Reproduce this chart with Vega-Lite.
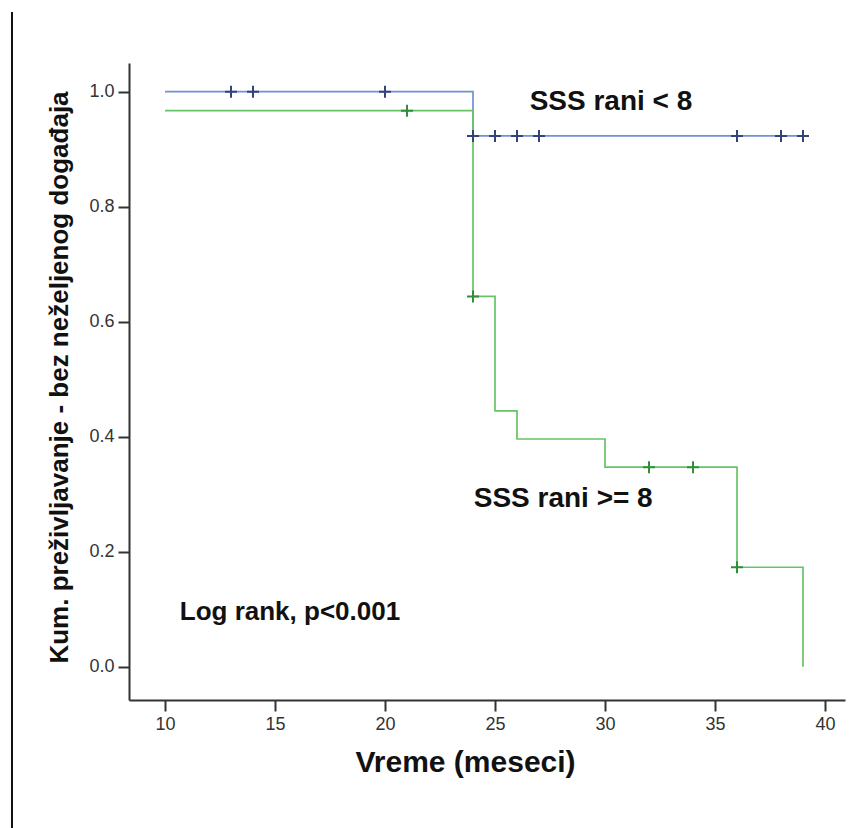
{
  "$schema": "https://vega.github.io/schema/vega-lite/v6.json",
  "width": 716,
  "height": 637,
  "autosize": {"type": "none"},
  "padding": {"left": 129, "top": 63, "right": 4, "bottom": 128},
  "background": "white",
  "config": {"view": {"stroke": null}, "font": "Liberation Sans"},
  "datasets": {
    "curves": [
      {"group": "lt8", "time": 10, "surv": 1.0},
      {"group": "lt8", "time": 24, "surv": 0.923},
      {"group": "lt8", "time": 39, "surv": 0.923},
      {"group": "ge8", "time": 10, "surv": 0.967},
      {"group": "ge8", "time": 24, "surv": 0.644},
      {"group": "ge8", "time": 25, "surv": 0.445},
      {"group": "ge8", "time": 26, "surv": 0.396},
      {"group": "ge8", "time": 30, "surv": 0.347},
      {"group": "ge8", "time": 36, "surv": 0.173},
      {"group": "ge8", "time": 39, "surv": 0.0}
    ],
    "censors": [
      {"group": "lt8", "time": 13, "surv": 1.0},
      {"group": "lt8", "time": 14, "surv": 1.0},
      {"group": "lt8", "time": 20, "surv": 1.0},
      {"group": "lt8", "time": 24, "surv": 0.923},
      {"group": "lt8", "time": 25, "surv": 0.923},
      {"group": "lt8", "time": 26, "surv": 0.923},
      {"group": "lt8", "time": 27, "surv": 0.923},
      {"group": "lt8", "time": 36, "surv": 0.923},
      {"group": "lt8", "time": 38, "surv": 0.923},
      {"group": "lt8", "time": 39, "surv": 0.923},
      {"group": "ge8", "time": 21, "surv": 0.967},
      {"group": "ge8", "time": 24, "surv": 0.644},
      {"group": "ge8", "time": 32, "surv": 0.347},
      {"group": "ge8", "time": 34, "surv": 0.347},
      {"group": "ge8", "time": 36, "surv": 0.173}
    ],
    "one": [{}]
  },
  "layer": [
    {
      "data": {"name": "curves"},
      "mark": {"type": "line", "interpolate": "step-after", "strokeWidth": 1.7},
      "encoding": {
        "x": {
          "field": "time", "type": "quantitative",
          "scale": {"domain": [8.3636, 40.909], "nice": false, "zero": false},
          "axis": {
            "values": [10, 15, 20, 25, 30, 35, 40],
            "grid": false,
            "domainColor": "#333333", "domainWidth": 2,
            "tickColor": "#333333", "tickWidth": 2, "tickSize": 11,
            "labelFont": "Liberation Sans", "labelFontSize": 18, "labelColor": "#333333", "labelPadding": 4,
            "title": "Vreme (meseci)",
            "titleFont": "Liberation Sans", "titleFontSize": 30, "titleFontWeight": "bold", "titleColor": "#111111",
            "titleX": 336, "titleY": 62, "titleBaseline": "middle", "titleAlign": "center"
          }
        },
        "y": {
          "field": "surv", "type": "quantitative",
          "scale": {"domain": [-0.0579, 1.0499], "nice": false, "zero": false},
          "axis": {
            "values": [0, 0.2, 0.4, 0.6, 0.8, 1.0],
            "format": ".1f",
            "grid": false,
            "domainColor": "#333333", "domainWidth": 2,
            "tickColor": "#333333", "tickWidth": 2, "tickSize": 11,
            "labelFont": "Liberation Sans", "labelFontSize": 18, "labelColor": "#333333", "labelPadding": 4,
            "title": "Kum. preživljavanje - bez neželjenog događaja",
            "titleFont": "Liberation Sans", "titleFontSize": 26, "titleFontWeight": "bold", "titleColor": "#111111",
            "titleX": -70, "titleY": 314, "titleAngle": 270, "titleBaseline": "middle", "titleAlign": "center"
          }
        },
        "color": {
          "field": "group", "type": "nominal",
          "scale": {"domain": ["lt8", "ge8"], "range": ["#7090d8", "#66c466"]},
          "legend": null
        }
      }
    },
    {
      "data": {"name": "censors"},
      "mark": {"type": "point", "shape": "M-1,0H1M0,-1V1", "filled": false, "strokeWidth": 2, "size": 144, "opacity": 1},
      "encoding": {
        "x": {"field": "time", "type": "quantitative"},
        "y": {"field": "surv", "type": "quantitative"},
        "stroke": {
          "field": "group", "type": "nominal",
          "scale": {"domain": ["lt8", "ge8"], "range": ["#34447a", "#2f8f3a"]},
          "legend": null
        }
      }
    },
    {
      "data": {"name": "one"},
      "mark": {"type": "rule", "color": "#111111", "strokeWidth": 2},
      "encoding": {
        "x": {"datum": 3.045, "type": "quantitative"},
        "y": {"datum": 1.1386, "type": "quantitative"},
        "y2": {"datum": -0.2805}
      }
    },
    {
      "data": {"name": "one"},
      "mark": {"type": "text", "font": "Liberation Sans", "fontWeight": "bold", "fontSize": 28, "color": "#111111", "align": "center", "baseline": "middle"},
      "encoding": {
        "x": {"datum": 30.27, "type": "quantitative"},
        "y": {"datum": 0.982, "type": "quantitative"},
        "text": {"value": "SSS rani < 8"}
      }
    },
    {
      "data": {"name": "one"},
      "mark": {"type": "text", "font": "Liberation Sans", "fontWeight": "bold", "fontSize": 28, "color": "#111111", "align": "center", "baseline": "middle"},
      "encoding": {
        "x": {"datum": 28.1, "type": "quantitative"},
        "y": {"datum": 0.292, "type": "quantitative"},
        "text": {"value": "SSS rani >= 8"}
      }
    },
    {
      "data": {"name": "one"},
      "mark": {"type": "text", "font": "Liberation Sans", "fontWeight": "bold", "fontSize": 26, "color": "#111111", "align": "center", "baseline": "middle"},
      "encoding": {
        "x": {"datum": 15.68, "type": "quantitative"},
        "y": {"datum": 0.095, "type": "quantitative"},
        "text": {"value": "Log rank, p<0.001"}
      }
    }
  ]
}
